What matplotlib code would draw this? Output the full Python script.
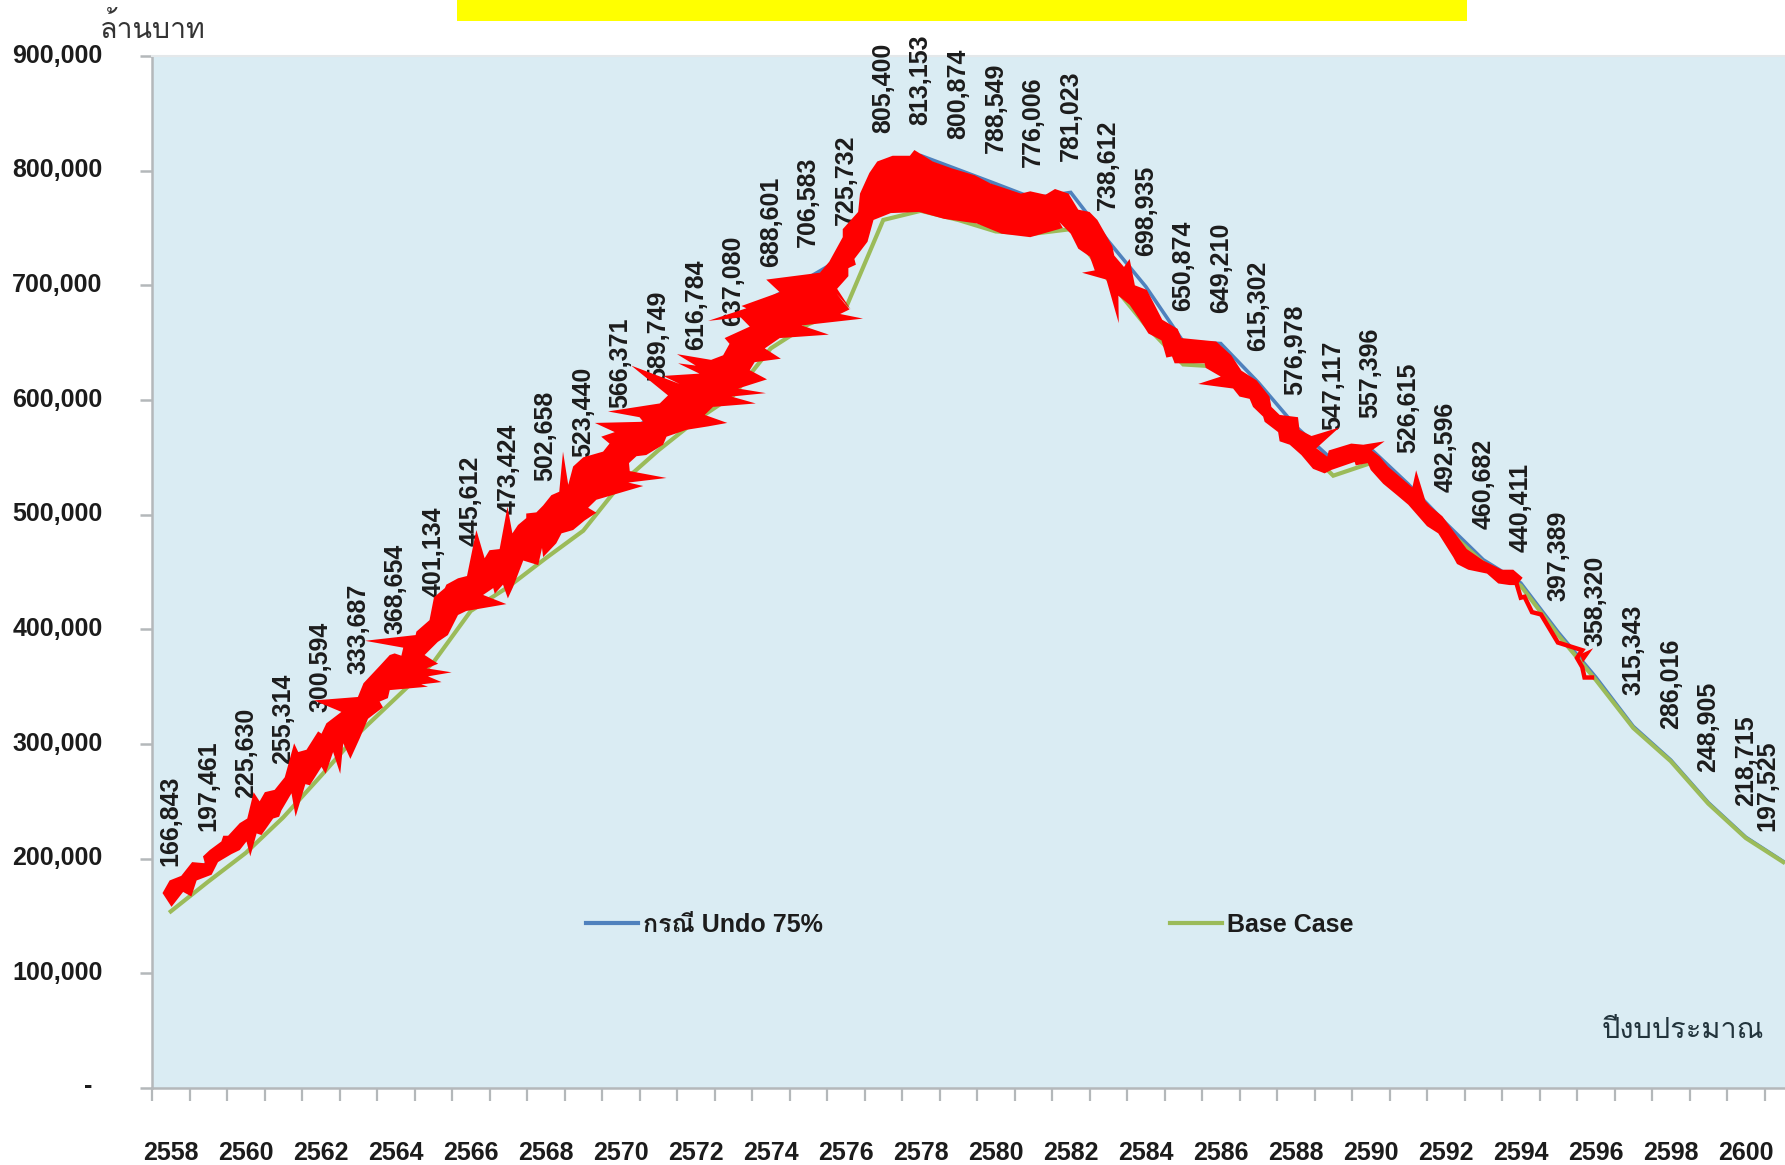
import matplotlib
matplotlib.use("Agg")
import matplotlib.pyplot as plt
from matplotlib import font_manager as fm
from matplotlib.ft2font import FT2Font
from matplotlib.lines import Line2D
from matplotlib.patches import Rectangle
from matplotlib.transforms import ScaledTranslation

# ---------- data ----------
years = list(range(2558, 2602))
undo_75 = [166843, 197461, 225630, 255314, 300594, 333687, 368654, 401134, 445612, 473424,
           502658, 523440, 566371, 589749, 616784, 637080, 688601, 706583, 725732, 805400,
           813153, 800874, 788549, 776006, 781023, 738612, 698935, 650874, 649210, 615302,
           576978, 547117, 557396, 526615, 492596, 460682, 440411, 397389, 358320, 315343,
           286016, 248905, 218715, 197525]
base_case = [154000, 180000, 205000, 236000, 272000, 309000, 340000, 371000, 416000, 437000,
             462000, 486000, 527000, 556000, 582000, 604000, 645000, 666000, 680000, 757000,
             765000, 757000, 747000, 745000, 749000, 705000, 665000, 631000, 629000, 600000,
             566000, 534000, 545000, 520000, 488000, 458000, 438000, 395000, 356000, 314000,
             285000, 248000, 218000, 197000]
ytick_values = [0, 100000, 200000, 300000, 400000, 500000, 600000, 700000, 800000, 900000]
series_names = ["กรณี Undo 75%", "Base Case"]
yaxis_title = "ล้านบาท"
xaxis_title = "ปีงบประมาณ"

# red scribble over the curve: position in years since 2558, value in thousand baht
rise_top_pos = [-0.22, -0.03, 0.28, 0.57, 0.91, 0.86, 1.04, 1.35, 1.4, 1.53, 1.84, 2.04, 2.21, 2.37, 2.51, 2.77, 3.04, 3.29, 3.4, 3.62,
    3.93, 4.02, 4.15, 4.55, 3.82, 4.99, 5.14, 5.57, 5.84, 5.97, 6.15, 6.2, 5.18, 6.53, 6.55, 6.9, 7.02, 7.31, 7.35, 7.66,
    7.9, 8.15, 8.37, 8.5, 8.77, 8.98, 9.11, 9.26, 9.48, 9.48, 9.75, 9.93]
rise_top_val = [170, 181, 185, 197, 196, 202, 207.5, 215, 220, 220, 231, 235, 258, 250, 258, 260, 271, 300.6, 293, 295,
    311, 309, 318, 328, 338, 341, 353, 368, 377.6, 379, 377, 384, 390, 395, 398, 408, 428, 436, 439, 444.5,
    446.5, 486.6, 462, 469, 470, 507, 483.7, 491, 497, 501, 502, 508]
middle_pos = [10.15, 10.36, 10.46,
    10.6, 10.73, 11.0, 11.53, 11.7, 11.48, 11.84, 11.31, 12.6, 12.5, 11.66, 13.04, 13.26, 12.28, 13.57, 13.13, 14.1, 13.53, 14.0, 13.5,
    14.41, 14.73, 14.9, 14.77, 15.44, 15.2, 14.33, 15.35, 15.22, 16.24, 15.88, 17.31, 17.56, 17.92, 17.92, 18.33, 18.38, 18.63, 18.84, 19.25,
    19.71, 19.83, 20.32, 20.83, 21.44, 21.85, 22.67, 22.92, 23.33, 23.58, 23.94, 24.2, 24.5, 24.71, 25.11, 25.16, 25.42, 25.57, 25.71, 26.03,
    26.44, 26.85, 26.95, 27.88, 28.28, 28.55, 28.96, 29.3, 29.35, 29.57, 30.06, 30.1, 30.42, 31.16, 30.55, 30.84, 30.88, 31.48, 31.8, 32.37,
    32.03, 32.24, 32.46, 33.11, 33.21, 33.46, 33.6, 33.91, 34.56, 35.0, 35.5, 35.8, 36.05, 35.9,
    35.7, 35.4, 35.1, 34.6, 34.3, 34.2, 33.8, 33.5, 33.0, 32.7, 32.33, 32.0, 31.92, 31.6, 31.57, 30.95, 30.77, 30.46, 30.15, 29.84,
    29.57, 29.53, 29.17, 29.13, 28.86, 28.77, 28.5, 28.33, 27.4, 28.0, 27.6, 27.57, 26.77, 26.7, 26.55, 26.42, 26.07, 25.84, 25.57, 25.27,
    25.28, 24.95, 24.3, 24.64, 24.51, 24.2, 24.0, 23.7, 23.79, 22.92, 22.16, 21.49, 20.62, 19.96, 19.2, 18.74, 18.58, 18.23, 18.27, 18.07,
    18.07, 17.77, 18.13, 17.75, 18.1, 17.85, 18.46, 16.82, 17.55, 16.24, 15.84, 16.27, 15.57, 15.44, 15.9, 15.13, 15.87, 14.95, 15.6, 14.46,
    14.24, 14.84, 14.33, 13.75, 13.22, 13.13, 12.68, 12.42, 12.22, 12.24, 13.22, 12.2, 12.6, 11.35, 11.13]
middle_val = [517, 520, 555,
    526, 542, 550, 555, 562, 568, 572, 580, 581, 585, 590, 597, 604, 630, 614, 621, 623, 632, 630, 640,
    635, 639, 649, 654, 664, 672, 669, 680, 682, 694, 705, 711, 720.6, 742, 749, 764, 780, 798, 808, 813,
    813, 818, 808, 802, 796, 789, 780, 782, 779, 784, 780, 766, 764, 757, 734, 726, 716, 723, 700, 696,
    670, 662, 654, 651, 639, 625.6, 617, 603, 594, 587, 585, 574, 568.6, 576, 558, 550.6, 556, 562, 561, 564,
    556, 550.6, 542, 523.7, 538.7, 512, 507, 498.6, 470, 460, 452, 452, 445, 438.6,
    438.6, 440, 448.6, 452, 457, 463, 483.7, 490, 508.7, 517, 527, 539, 545, 543, 546, 539, 536, 540, 552, 561,
    564, 572, 581, 585.5, 594, 601, 603, 610, 614, 620.4, 628, 632, 632, 638, 637, 652, 658, 670, 683, 691,
    667, 705, 711, 713, 725, 732, 745, 755, 750, 742, 745, 754, 758, 764, 763, 757, 738, 723, 718, 715,
    708, 697, 679, 693, 679, 675, 671, 665, 657, 654, 645, 636, 633, 626, 618, 610, 606, 603, 597, 594,
    587, 580, 577, 574, 568, 561, 552, 551, 545, 538, 532, 528, 525, 513, 506]
rise_low_pos = [11.35, 11.04, 10.73, 10.42, 10.28, 9.93, 9.9, 9.8, 9.4, 9.13, 8.99, 8.86, 8.64, 8.6, 8.33, 8.95, 7.88, 7.66, 7.39, 7.12,
    6.77, 7.13, 6.82, 7.49, 6.86, 7.22, 6.68, 6.86, 5.84, 5.79, 5.57, 5.66, 5.26, 5.04, 4.79, 4.6, 4.52, 4.33, 4.13, 4.02,
    3.71, 3.59, 3.33, 3.22, 2.95, 2.89, 2.73, 2.42, 2.29, 2.12, 2.02, 1.84, 1.62, 1.26, 1.09, 0.69, 0.55, 0.33, 0.02]
rise_low_val = [501.7, 495, 486.6, 483.7, 475, 463, 471, 456, 460, 437, 427, 439, 431, 436, 430, 422, 416, 412.5, 395, 389,
    377.6, 370, 366, 362.5, 359, 354, 352, 350, 347, 340, 337, 332, 322, 305, 287, 300.6, 274, 293, 274, 280,
    264, 265, 236.6, 257, 242, 236.6, 235, 220.6, 222, 202, 215, 207.5, 204, 197, 186, 181, 167, 171, 158]
stroke_pos = [35.9, 36.0, 36.1, 36.3, 36.54, 36.99, 37.64, 37.5, 37.64, 37.7, 37.9]
stroke_val = [438.6, 427.6, 428.4, 415, 413, 388.5, 381.8, 375, 367, 358, 358]
wedge_pos = [37.93, 37.58, 37.66]
wedge_val = [383.5, 378, 371]

# ---------- fonts ----------
def thai_family():
    for f in fm.fontManager.ttflist:
        try:
            if 0x0E01 in FT2Font(f.fname).get_charmap():
                return [f.name]
        except Exception:
            pass
    return []

LATIN = "Liberation Sans"
THAI = thai_family()
plt.rcParams["font.family"] = [LATIN] + THAI + ["DejaVu Sans"]

# ---------- figure ----------
W, H = 1785, 1165
fig = plt.figure(figsize=(W / 100, H / 100), dpi=100, facecolor="white")
L, R, T, B = 152, 1785, 56, 1088
ax = fig.add_axes([L / W, 1 - B / H, (R - L) / W, (B - T) / H], facecolor="#DAECF3")
x = list(range(len(years)))

ax.plot(x, undo_75, color="#4F81BD", lw=2.6, solid_joinstyle="miter", zorder=3, label=series_names[0])
ax.plot(x, base_case, color="#9BBB59", lw=3.0, solid_joinstyle="miter", zorder=4, label=series_names[1])

# data labels
TEXT = "#1c1c1c"
for i, v in enumerate(undo_75):
    dx = -16 if i == len(undo_75) - 1 else 0
    ax.annotate(f"{v:,}", xy=(i, v), xytext=(dx, 31), textcoords="offset pixels",
                rotation=90, ha="center", va="bottom", fontsize=18, fontweight="bold",
                color=TEXT, zorder=5, annotation_clip=False)

# red scribble
scribble_pos = rise_top_pos + middle_pos + rise_low_pos
scribble_val = rise_top_val + middle_val + rise_low_val
ax.fill(scribble_pos, [v * 1000 for v in scribble_val], color="#FF0000", lw=0, zorder=6)
ax.fill(wedge_pos, [v * 1000 for v in wedge_val], color="#FF0000", lw=0, zorder=6)
ax.plot(stroke_pos, [v * 1000 for v in stroke_val], color="#FF0000", lw=3.2,
        solid_joinstyle="miter", zorder=6)

# axes
ax.spines["right"].set_visible(False)
ax.spines["top"].set_color("#E4E8EA")
ax.spines["top"].set_linewidth(1.5)
for s in ("left", "bottom"):
    ax.spines[s].set_color("#B4B8BA")
    ax.spines[s].set_linewidth(1.8)

ax.set_yticks(ytick_values)
ax.set_yticklabels([""] + [f"{v:,}" for v in ytick_values[1:]], fontsize=18, fontweight="bold", color=TEXT)
ax.tick_params(axis="y", length=8.5, width=1.8, color="#B4B8BA", pad=27)
up = ScaledTranslation(0, 3 / 100, fig.dpi_scale_trans)
for lab in ax.get_yticklabels():
    lab.set_transform(lab.get_transform() + up)
ax.annotate("-", xy=(0, 0), xycoords="axes fraction", xytext=(-64, 2), textcoords="offset pixels",
            ha="center", va="center", fontsize=18, fontweight="bold", color=TEXT, annotation_clip=False)

ax.set_xticks([i - 0.5 for i in range(len(years) + 1)])
ax.set_xticklabels([])
ax.tick_params(axis="x", which="major", length=9, width=1.6, color="#B4B8BA")
ax.set_xticks(x[::2], minor=True)
ax.set_xticklabels([str(y) for y in years[::2]], minor=True, fontsize=18, fontweight="bold", color=TEXT)
ax.tick_params(axis="x", which="minor", length=0, pad=38)

# limits last: the tick calls above would widen them
ax.set_xlim(-0.5, -0.5 + (R - L) / 37.5)
ax.set_ylim(0, 900000)

# legend
handles = [Line2D([], [], color="#4F81BD", lw=3.0), Line2D([], [], color="#9BBB59", lw=3.0)]
leg = ax.legend(handles, series_names, ncol=2, frameon=False, loc="center left",
                bbox_to_anchor=((586 - L) / (R - L), (B - 925) / (B - T)),
                borderpad=0, borderaxespad=0, handlelength=2.08, handletextpad=0.2,
                columnspacing=13.9,
                prop=fm.FontProperties(family=[LATIN] + THAI + ["DejaVu Sans"], weight="bold", size=18))
for t in leg.get_texts():
    t.set_color(TEXT)

# axis titles
fig.text(100 / W, 1 - 38 / H, yaxis_title, fontsize=20.5, color="#333333", ha="left", va="baseline")
fig.text(1602 / W, 1 - 1038 / H, xaxis_title, fontsize=20.8, color="#22343C", ha="left", va="baseline")

# yellow band at the top
fig.add_artist(Rectangle((457 / W, 1 - 21 / H), (1467 - 457) / W, 21 / H, transform=fig.transFigure,
                         facecolor="#FFFF00", edgecolor="none"))

fig.savefig("out.png", dpi=100, facecolor="white")
